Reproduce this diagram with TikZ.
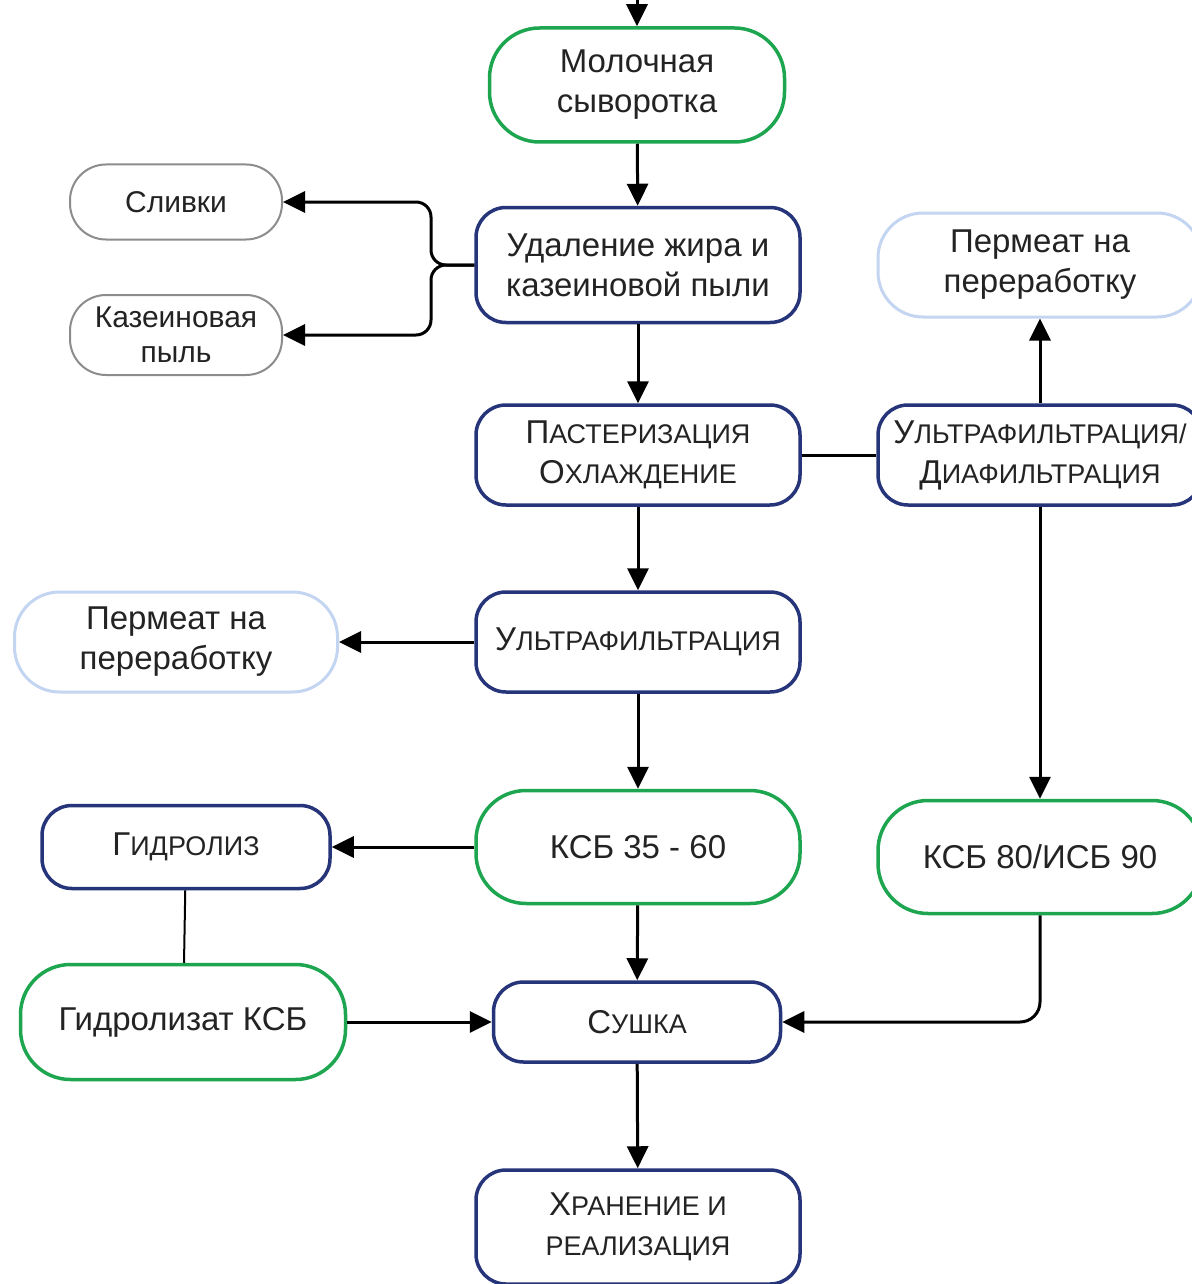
\documentclass[tikz,border=0pt]{standalone}
\usepackage{fontspec}
\setmainfont{Liberation Sans}
\usetikzlibrary{arrows.meta}
\definecolor{grn}{RGB}{30,165,80}
\definecolor{nav}{RGB}{38,52,122}
\definecolor{gry}{RGB}{140,140,140}
\definecolor{lbl}{RGB}{196,213,242}
\definecolor{txt}{RGB}{35,35,35}
\newcommand\fsc[2]{{\fontsize{33}{40}\selectfont #1}{\fontsize{27}{40}\selectfont #2}}
\newcommand\smc[1]{{\fontsize{27}{40}\selectfont #1}}
\begin{document}
\begin{tikzpicture}[x=1pt,y=-1pt,
  box/.style={draw, line width=3.5pt, align=center, text=txt, font=\fontsize{33}{40}\selectfont, inner sep=0pt, minimum width=324pt, minimum height=100pt},
  navbox/.style={box, draw=nav, rounded corners=30pt},
  grnbox/.style={box, draw=grn, rounded corners=50pt, minimum height=114pt},
  grybox/.style={box, draw=gry, line width=2pt, rounded corners=36pt, minimum width=212pt, minimum height=76pt, font=\fontsize{30}{35}\selectfont},
  lblbox/.style={box, draw=lbl, line width=3pt, rounded corners=45pt, minimum height=104pt},
  arr/.style={line width=3pt, draw=black, -{Triangle[length=22pt,width=21pt]}},
  ln/.style={line width=3pt, draw=black}
]
\useasboundingbox[fill=white] (0,0) rectangle (1191,1284);

\node[grnbox, minimum width=295pt] (mol) at (637,85) {Молочная\\сыворотка};
\node[navbox, minimum height=115pt] (ud) at (638,265) {Удаление жира и\\казеиновой пыли};
\node[grybox, minimum height=75pt] (sliv) at (176,202) {Сливки};
\node[grybox, minimum height=80pt] (kaz) at (176,335) {Казеиновая\\пыль};
\node[navbox] (past) at (638,455) {\fsc{П}{АСТЕРИЗАЦИЯ}\\\fsc{О}{ХЛАЖДЕНИЕ}};
\node[navbox] (uldia) at (1040,455) {\fsc{У}{ЛЬТРАФИЛЬТРАЦИЯ/}\\\fsc{Д}{ИАФИЛЬТРАЦИЯ}};
\node[lblbox] (perm1) at (1040,265) {Пермеат на\\переработку};
\node[navbox] (ultra) at (638,642) {\fsc{У}{ЛЬТРАФИЛЬТРАЦИЯ}};
\node[lblbox, minimum width=323pt, minimum height=100pt] (perm2) at (176,642) {Пермеат на\\переработку};
\node[grnbox, minimum height=113pt] (ksb) at (638,847) {КСБ 35 - 60};
\node[navbox, minimum width=288pt, minimum height=83pt] (gid) at (186,847) {\fsc{Г}{ИДРОЛИЗ}};
\node[grnbox, minimum width=325pt, minimum height=115pt] (gidk) at (183,1022) {Гидролизат КСБ};
\node[navbox, minimum width=287pt, minimum height=80pt] (su) at (637,1022) {\fsc{С}{УШКА}};
\node[grnbox, minimum height=113pt] (k80) at (1040,857) {КСБ 80/ИСБ 90};
\node[navbox, minimum height=114pt] (hr) at (638,1227) {\fsc{Х}{РАНЕНИЕ И}\\\smc{РЕАЛИЗАЦИЯ}};

\coordinate (in) at (637,0);
\coordinate (brc) at (431,265);

\draw[arr] (in) -- (mol.north);
\draw[arr] (mol) -- (ud);
\draw[arr, rounded corners=15pt] (ud.west) -- (brc) -- (brc |- sliv.east) -- (sliv.east);
\draw[arr, rounded corners=15pt] (ud.west) -- (brc) -- (brc |- kaz.east) -- (kaz.east);
\draw[arr] (ud) -- (past);
\draw[ln] (past) -- (uldia);
\draw[arr] (uldia) -- (perm1);
\draw[arr] (uldia) -- (k80);
\draw[arr] (past) -- (ultra);
\draw[arr] (ultra) -- (perm2);
\draw[arr] (ultra) -- (ksb);
\draw[arr] (ksb) -- (gid);
\draw[line width=2pt] (gid) -- (gidk);
\draw[arr] (ksb) -- (su);
\draw[arr] (gidk) -- (su);
\draw[arr, rounded corners=20pt] (k80.south) -- (k80.south |- su.east) -- (su.east);
\draw[arr] (su) -- (hr);
\end{tikzpicture}
\end{document}
